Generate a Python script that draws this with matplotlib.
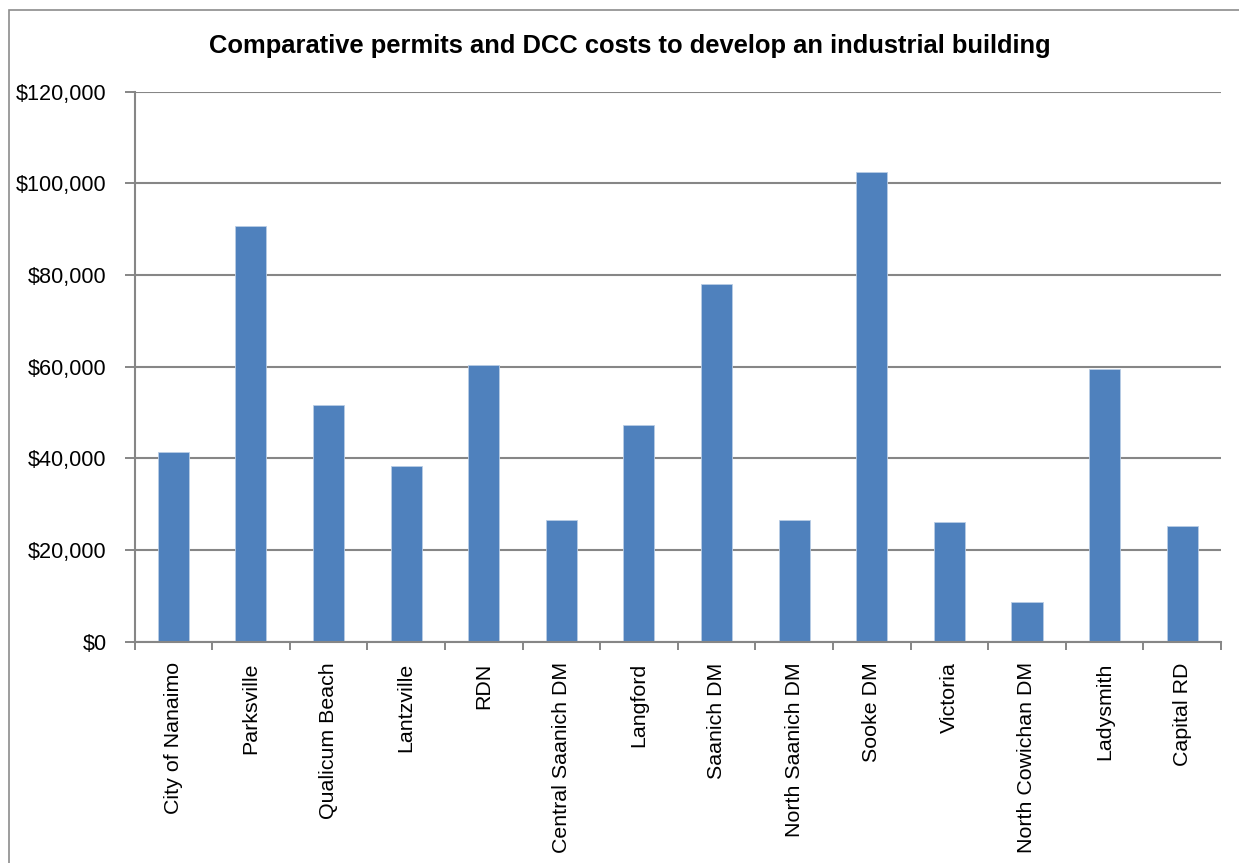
import matplotlib
matplotlib.use("Agg")
import matplotlib.pyplot as plt
from matplotlib.ticker import FuncFormatter, FixedLocator, MultipleLocator
from matplotlib.patches import Rectangle
import numpy as np

municipalities = [
    "City of Nanaimo", "Parksville", "Qualicum Beach", "Lantzville", "RDN",
    "Central Saanich DM", "Langford", "Saanich DM", "North Saanich DM",
    "Sooke DM", "Victoria", "North Cowichan DM", "Ladysmith", "Capital RD",
]
costs = [
    41300, 90700, 51700, 38200, 60300,
    26500, 47200, 78100, 26500,
    102400, 26100, 8700, 59500, 25200,
]
title = "Comparative permits and DCC costs to develop an industrial building"

plt.rcParams["font.family"] = ["Liberation Sans", "DejaVu Sans"]

W, H = 1239, 863
fig = plt.figure(figsize=(W / 100, H / 100), dpi=100)

# chart-area border (extends past right/bottom edges of the canvas)
fig.patches.append(Rectangle((9 / W, -0.1), 1.2, 1 - 10 / H + 0.1,
                             transform=fig.transFigure, fill=False,
                             edgecolor="#8c8c8c", linewidth=1.2))

ax = fig.add_axes([134.5 / W, 1 - 641.5 / H, (1221 - 134.5) / W, (641.5 - 91.7) / H])

x = np.arange(len(municipalities))
ax.bar(x, costs, width=0.4, color="#4f81bd", edgecolor="#b9cde5", linewidth=0.6, zorder=3)

ax.set_xlim(-0.5, len(municipalities) - 0.5)
ax.set_ylim(0, 120000)
ax.yaxis.set_major_locator(MultipleLocator(20000))
ax.yaxis.set_major_formatter(FuncFormatter(lambda v, p: f"${v:,.0f}"))
ax.grid(axis="y", color="#868686", linewidth=1.5, zorder=0)

ax.set_xticks(x)
ax.set_xticklabels(municipalities, rotation=90, fontsize=15.4)
ax.xaxis.set_minor_locator(FixedLocator(np.arange(-0.5, len(municipalities), 1.0)))
ax.tick_params(axis="x", which="major", length=0, pad=15)
ax.tick_params(axis="x", which="minor", length=6, width=1.4, color="#868686")
ax.tick_params(axis="y", which="major", length=7, width=1.4, color="#868686",
               labelsize=15.6, pad=13)

for s in ("top", "right"):
    ax.spines[s].set_visible(False)
for s in ("left", "bottom"):
    ax.spines[s].set_color("#868686")
    ax.spines[s].set_linewidth(1.5)
    ax.spines[s].set_zorder(4)

fig.text(630 / W, 1 - 46 / H, title, ha="center", va="center",
         fontsize=18.4, fontweight="bold")

fig.savefig("out.png", dpi=100, facecolor="white")
